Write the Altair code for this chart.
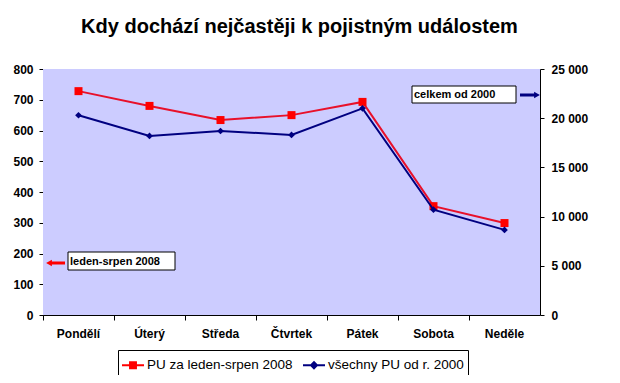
import altair as alt
import pandas as pd

days = ["Pondělí", "Úterý", "Středa", "Čtvrtek", "Pátek", "Sobota", "Neděle"]
pu_2008 = [728, 680, 634, 650, 693, 354, 299]
pu_all = [20300, 18200, 18700, 18300, 21000, 10700, 8650]
series = ["PU za leden-srpen 2008", "všechny PU od r. 2000"]
colors = ["#FF0000", "#000080"]
left_ticks = [0, 100, 200, 300, 400, 500, 600, 700, 800]
right_ticks = [0, 5000, 10000, 15000, 20000, 25000]

FONT = "Liberation Sans"
W, H = 497, 246

df = pd.DataFrame({"den": days, "pu_2008": pu_2008, "pu_all": pu_all})
legend_df = pd.DataFrame({"serie": series})
one = pd.DataFrame({"a": [0]})

x_enc = alt.X(
    "den:N",
    sort=days,
    scale=alt.Scale(type="band", paddingInner=0, paddingOuter=0),
    axis=alt.Axis(
        title=None, bandPosition=0, labelAngle=0, labelFont=FONT,
        labelFontWeight="bold", labelFontSize=12, labelColor="black",
        labelPadding=8, tickSize=5, domainColor="black", tickColor="black",
        grid=False,
    ),
)

y_left = alt.Y(
    "pu_2008:Q",
    scale=alt.Scale(domain=[0, 800], nice=False),
    axis=alt.Axis(
        orient="left", values=left_ticks, title=None, grid=False,
        labelFont=FONT, labelFontWeight="bold", labelFontSize=12,
        labelColor="black", labelPadding=6, tickSize=4,
        domainColor="black", tickColor="black",
    ),
)

y_right = alt.Y(
    "pu_all:Q",
    scale=alt.Scale(domain=[0, 25000], nice=False),
    axis=alt.Axis(
        orient="right", values=right_ticks, title=None, grid=False,
        labelFont=FONT, labelFontWeight="bold", labelFontSize=12,
        labelColor="black", labelPadding=7, tickSize=4,
        domainColor="black", tickColor="black",
        labelExpr="replace(format(datum.value, ','), ',', ' ')",
    ),
)

base = alt.Chart(df)

ann = alt.Chart(one)
bg = ann.mark_rect(color="#CCCCFF").encode(
    x=alt.value(0), x2=alt.value(W), y=alt.value(0), y2=alt.value(H))

red_line = base.mark_line(color="#E8102A", strokeWidth=2).encode(x=x_enc, y=y_left)
red_pts = base.mark_point(shape="square", filled=True, color="#FF0000", size=64, opacity=1).encode(x=x_enc, y=y_left)

blue_line = base.mark_line(color="#000080", strokeWidth=2).encode(x=x_enc, y=y_right)
blue_pts = base.mark_point(shape="diamond", filled=True, color="#000080", size=45, opacity=1).encode(x=x_enc, y=y_right)

path_sq = "M-1,-0.09H1V0.09H-1Z M-0.36,-0.36H0.36V0.36H-0.36Z"
path_dia = "M-1,-0.09H1V0.09H-1Z M0,-0.4L0.4,0L0,0.4L-0.4,0Z"

leg = alt.Legend(
    title=None, orient="none", legendX=75, legendY=281, direction="horizontal",
    strokeColor="black", fillColor="white", padding=4,
    labelFont=FONT, labelFontSize=13.5, labelColor="black",
    symbolSize=484, symbolOpacity=1, symbolStrokeWidth=0,
    columnPadding=10, labelOffset=3, labelLimit=300,
)

legend_layer = alt.Chart(legend_df).mark_point(filled=True, opacity=0).encode(
    color=alt.Color("serie:N", scale=alt.Scale(domain=series, range=colors), legend=leg),
    shape=alt.Shape("serie:N", scale=alt.Scale(domain=series, range=[path_sq, path_dia]), legend=leg),
)

# Annotation boxes and arrows
left_box = ann.mark_rect(fill="white", stroke="black", strokeWidth=1).encode(
    x=alt.value(25), x2=alt.value(132), y=alt.value(183), y2=alt.value(201))
left_txt = ann.mark_text(text="leden-srpen 2008", font=FONT, fontWeight="bold", fontSize=11,
                         align="left", baseline="middle", color="black").encode(
    x=alt.value(27), y=alt.value(192.5))
left_arrow = ann.mark_rule(color="#FF0000", strokeWidth=3).encode(
    x=alt.value(8), x2=alt.value(22), y=alt.value(194))
left_head = ann.mark_point(shape="triangle-left", filled=True, color="#FF0000", size=45, opacity=1).encode(
    x=alt.value(6), y=alt.value(194))

right_box = ann.mark_rect(fill="white", stroke="black", strokeWidth=1).encode(
    x=alt.value(369), x2=alt.value(473), y=alt.value(17), y2=alt.value(34))
right_txt = ann.mark_text(text="celkem od 2000", font=FONT, fontWeight="bold", fontSize=11,
                          align="left", baseline="middle", color="black").encode(
    x=alt.value(371), y=alt.value(26))
right_arrow = ann.mark_rule(color="#000080", strokeWidth=3).encode(
    x=alt.value(477), x2=alt.value(492), y=alt.value(26))
right_head = ann.mark_point(shape="triangle-right", filled=True, color="#000080", size=45, opacity=1).encode(
    x=alt.value(494), y=alt.value(26))

left_layer = alt.layer(bg, red_line, red_pts, legend_layer, left_box, left_txt, left_arrow, left_head)
right_layer = alt.layer(blue_line, blue_pts, right_box, right_txt, right_arrow, right_head)

chart = alt.layer(left_layer, right_layer).resolve_scale(y="independent").properties(
    width=W,
    height=H,
    background="white",
    title=alt.TitleParams(
        "Kdy dochází nejčastěji k pojistným událostem",
        font=FONT, fontSize=20, fontWeight="bold", color="black",
        anchor="middle", dx=8, offset=10, baseline="alphabetic",
    ),
    autosize=alt.AutoSizeParams(type="none"),
    padding={"left": 35, "top": 61, "right": 62, "bottom": 60},
).configure_view(
    stroke=None,
)

chart.save("out.html", embed_options={"renderer": "svg", "actions": False})
